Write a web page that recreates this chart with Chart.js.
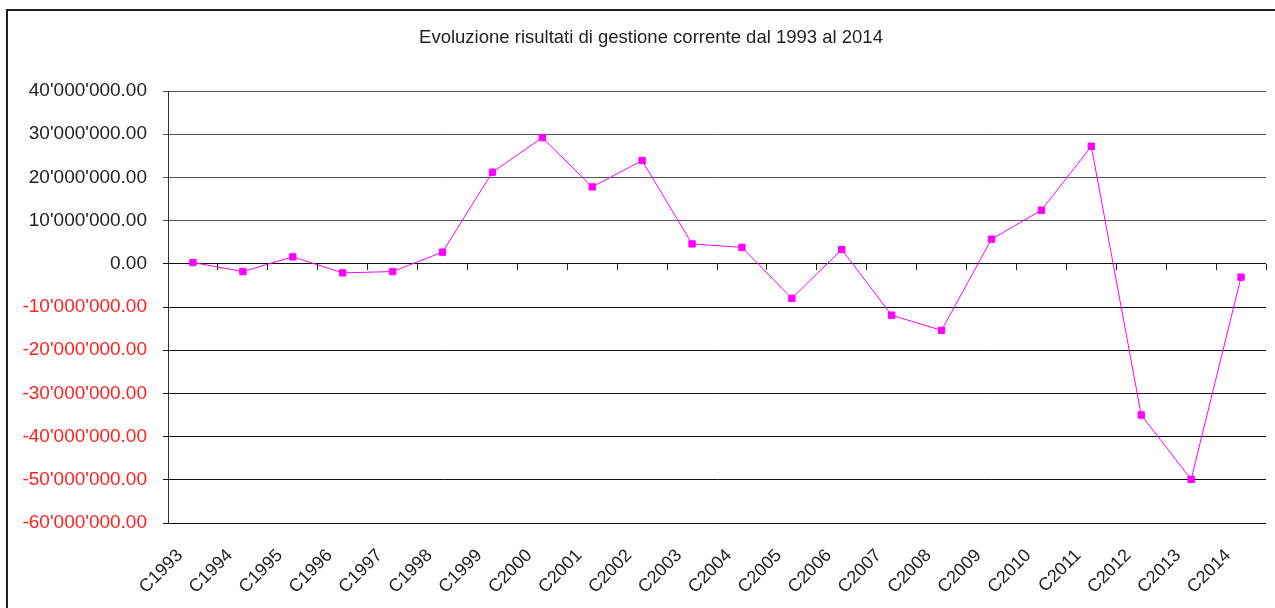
<!DOCTYPE html>
<html>
<head>
<meta charset="utf-8">
<script src="https://cdn.jsdelivr.net/npm/chart.js@4.4.1/dist/chart.umd.min.js"></script>
<style>
  html, body { margin: 0; padding: 0; background: #fff; }
  #wrap { position: relative; width: 1275px; height: 608px; overflow: hidden; }
  #frame {
    position: absolute; left: 6px; top: 9px; width: 1300px; height: 620px;
    border-top: 2px solid #222; border-left: 2px solid #222;
    pointer-events: none;
  }
  canvas { position: absolute; left: 0; top: 0; }
</style>
</head>
<body>
<div id="wrap">
  <canvas id="chart"></canvas>
  <div id="frame"></div>
</div>
<script>
// Risultati di gestione corrente, 1993-2014
const categories = [
  'C1993', 'C1994', 'C1995', 'C1996', 'C1997', 'C1998', 'C1999', 'C2000',
  'C2001', 'C2002', 'C2003', 'C2004', 'C2005', 'C2006', 'C2007', 'C2008',
  'C2009', 'C2010', 'C2011', 'C2012', 'C2013', 'C2014'
];
const risultati = [
  300000, -1800000, 1600000, -2100000, -1800000, 2700000, 21200000, 29200000,
  17800000, 23900000, 4600000, 3800000, -8000000, 3300000, -11900000, -15400000,
  5700000, 12400000, 27200000, -35000000, -49900000, -3100000
];
const yMin = -60000000;
const yMax = 40000000;
const yStep = 10000000;

const FONT = '"Liberation Sans", Arial, sans-serif';

// 40000000 -> 40'000'000.00
function formatSwiss(v) {
  const neg = v < 0;
  const parts = Math.abs(v).toFixed(2).split('.');
  const intPart = parts[0].replace(/\B(?=(\d{3})+(?!\d))/g, "'");
  return (neg ? '-' : '') + intPart + '.' + parts[1];
}

// the title in the original sits a little right of the canvas centre
const titleShift = {
  id: 'titleShift',
  afterLayout(chart) {
    if (chart.titleBlock) chart.titleBlock.left += 36;
  }
};

const ctx = document.getElementById('chart').getContext('2d');
new Chart(ctx, {
  type: 'line',
  data: {
    labels: categories,
    datasets: [{
      label: 'Risultato',
      data: risultati,
      borderColor: '#ff00ff',
      backgroundColor: '#ff00ff',
      borderWidth: 1,
      pointStyle: 'rect',
      pointRadius: 4.5,
      pointBorderWidth: 1,
      pointBorderColor: '#ff00ff',
      pointBackgroundColor: '#ff00ff',
      tension: 0,
      fill: false
    }]
  },
  plugins: [titleShift],
  options: {
    responsive: true,
    maintainAspectRatio: false,
    animation: false,
    layout: { padding: { left: 0, right: 9, top: 0, bottom: 0 } },
    plugins: {
      legend: { display: false },
      tooltip: { enabled: false },
      title: {
        display: true,
        text: 'Evoluzione risultati di gestione corrente dal 1993 al 2014',
        color: '#222',
        font: { family: FONT, size: 18.5, weight: 'normal', lineHeight: 1.2 },
        padding: { top: 27, bottom: 41.8 }
      }
    },
    scales: {
      x: {
        type: 'category',
        offset: true,
        grid: { display: false },
        border: { display: false },
        ticks: {
          minRotation: 45,
          maxRotation: 45,
          autoSkip: false,
          padding: 14,
          labelOffset: -13,
          color: '#222',
          font: { family: FONT, size: 18 }
        },
        afterFit: scale => { scale.height = 85; }
      },
      xZero: {
        type: 'category',
        axis: 'x',
        labels: categories,
        position: { y: 0 },
        offset: true,
        grid: {
          offset: true,
          drawOnChartArea: false,
          drawTicks: true,
          tickLength: 6,
          color: '#222',
          lineWidth: 1
        },
        border: { display: false },
        ticks: { display: false }
      },
      y: {
        min: yMin,
        max: yMax,
        ticks: {
          stepSize: yStep,
          padding: 16,
          font: { family: FONT, size: 19 },
          color: c => (c.tick && c.tick.value < 0 ? '#ff2020' : '#222'),
          callback: v => formatSwiss(v)
        },
        grid: {
          color: c => (c.tick && c.tick.value > 0 ? '#555' : '#111'),
          lineWidth: 1,
          tickLength: 5
        },
        border: { display: true, color: '#333', width: 1 },
        afterFit: scale => { scale.width = 168; }
      }
    }
  }
});
</script>
</body>
</html>
